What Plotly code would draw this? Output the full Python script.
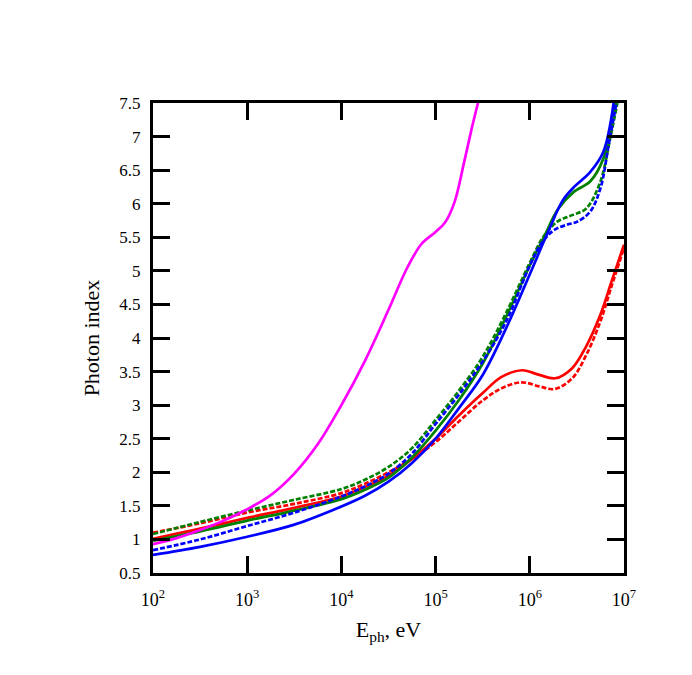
import plotly.graph_objects as go

# log10 of photon energy (eV) and photon index
m_logE = [2.0, 2.25, 2.5, 2.75, 3.0, 3.25, 3.5, 3.75, 4.0, 4.25, 4.5, 4.7, 4.85, 5.0, 5.1, 5.2, 5.3, 5.38, 5.45]
m_idx = [0.93, 1.02, 1.14, 1.28, 1.45, 1.66, 1.98, 2.42, 3.00, 3.66, 4.42, 5.05, 5.40, 5.58, 5.72, 6.02, 6.60, 7.10, 7.5]

rs_logE = [2.0, 2.5, 3.0, 3.5, 4.0, 4.25, 4.5, 4.75, 5.0, 5.25, 5.5, 5.7, 5.92, 6.1, 6.27, 6.45, 6.6, 6.75, 6.87, 7.0]
rs_idx = [1.01, 1.16, 1.32, 1.47, 1.64, 1.78, 1.95, 2.20, 2.50, 2.85, 3.18, 3.42, 3.52, 3.45, 3.40, 3.55, 3.88, 4.35, 4.85, 5.39]

rd_logE = [2.0, 2.5, 3.0, 3.5, 4.0, 4.25, 4.5, 4.75, 5.0, 5.25, 5.5, 5.7, 5.91, 6.1, 6.26, 6.45, 6.6, 6.75, 6.87, 7.0]
rd_idx = [1.10, 1.24, 1.40, 1.53, 1.69, 1.83, 2.00, 2.20, 2.45, 2.76, 3.07, 3.25, 3.34, 3.28, 3.24, 3.40, 3.75, 4.25, 4.78, 5.34]

gs_logE = [2.0, 2.5, 3.0, 3.5, 4.0, 4.25, 4.5, 4.75, 5.0, 5.25, 5.5, 5.75, 6.0, 6.15, 6.3, 6.47, 6.64, 6.78, 6.91]
gs_idx = [0.98, 1.12, 1.28, 1.43, 1.60, 1.74, 1.92, 2.22, 2.62, 3.08, 3.62, 4.32, 5.08, 5.50, 5.92, 6.18, 6.33, 6.67, 7.5]

gd_logE = [2.0, 2.5, 3.0, 3.5, 4.0, 4.25, 4.5, 4.75, 5.0, 5.25, 5.5, 5.75, 6.0, 6.15, 6.3, 6.45, 6.6, 6.75, 6.85, 6.93]
gd_idx = [1.08, 1.26, 1.43, 1.59, 1.75, 1.89, 2.08, 2.36, 2.78, 3.22, 3.72, 4.38, 5.12, 5.52, 5.74, 5.83, 5.93, 6.33, 6.95, 7.5]

bs_logE = [2.0, 2.5, 3.0, 3.5, 4.0, 4.25, 4.5, 4.75, 5.0, 5.25, 5.5, 5.75, 6.0, 6.2, 6.35, 6.47, 6.64, 6.78, 6.89]
bs_idx = [0.77, 0.89, 1.04, 1.22, 1.49, 1.65, 1.86, 2.14, 2.50, 2.96, 3.45, 4.15, 4.95, 5.60, 6.05, 6.25, 6.47, 6.77, 7.5]

bd_logE = [2.0, 2.5, 3.0, 3.5, 4.0, 4.25, 4.5, 4.75, 5.0, 5.25, 5.5, 5.75, 6.0, 6.13, 6.25, 6.4, 6.5, 6.64, 6.75, 6.84, 6.92]
bd_idx = [0.84, 1.00, 1.20, 1.40, 1.64, 1.79, 1.98, 2.28, 2.72, 3.16, 3.65, 4.25, 5.08, 5.42, 5.60, 5.69, 5.73, 5.88, 6.23, 6.90, 7.5]

x_tickvals = [1e2, 1e3, 1e4, 1e5, 1e6, 1e7]
x_ticktext = ["10<sup>2</sup>", "10<sup>3</sup>", "10<sup>4</sup>", "10<sup>5</sup>", "10<sup>6</sup>", "10<sup>7</sup>"]
y_tickvals = [0.5, 1, 1.5, 2, 2.5, 3, 3.5, 4, 4.5, 5, 5.5, 6, 6.5, 7, 7.5]
y_ticktext = ["0.5", "1", "1.5", "2", "2.5", "3", "3.5", "4", "4.5", "5", "5.5", "6", "6.5", "7", "7.5"]

series = [
    (rs_logE, rs_idx, "#ff0000", "solid"),
    (rd_logE, rd_idx, "#ff0000", "5px,2px"),
    (gs_logE, gs_idx, "#008000", "solid"),
    (gd_logE, gd_idx, "#008000", "5px,2px"),
    (bs_logE, bs_idx, "#0000ff", "solid"),
    (bd_logE, bd_idx, "#0000ff", "5px,2px"),
    (m_logE, m_idx, "#ff00ff", "solid"),
]

fig = go.Figure()
for lx, yy, col, dash in series:
    fig.add_trace(go.Scatter(
        x=[10 ** v for v in lx], y=yy, mode="lines",
        line=dict(color=col, width=2.7, dash=dash, shape="spline", smoothing=1.0),
        showlegend=False, hoverinfo="skip"))

FONT = "Liberation Serif"
fig.update_layout(
    width=692, height=675,
    margin=dict(l=145, r=76, t=95, b=110, autoexpand=False),
    paper_bgcolor="white", plot_bgcolor="white",
    font=dict(family=FONT, color="black", size=17),
    showlegend=False,
)
fig.update_xaxes(
    type="log", range=[2, 7], automargin=False,
    tickvals=x_tickvals, ticktext=x_ticktext,
    ticks="inside", ticklen=17, tickwidth=3, tickcolor="black",
    showline=True, linewidth=3, linecolor="black", mirror="allticks",
    showgrid=False, zeroline=False,
    tickfont=dict(family=FONT, size=18),
    ticklabelstandoff=8,
    title=dict(text="E<sub>ph</sub>, eV", font=dict(family=FONT, size=22), standoff=14),
)
fig.update_yaxes(
    range=[0.5, 7.5], automargin=False,
    tickvals=y_tickvals, ticktext=y_ticktext,
    ticks="inside", ticklen=17, tickwidth=3, tickcolor="black",
    showline=True, linewidth=3, linecolor="black", mirror="allticks",
    showgrid=False, zeroline=False,
    tickfont=dict(family=FONT, size=17),
    ticklabelstandoff=6,
    title=dict(text="Photon index", font=dict(family=FONT, size=22), standoff=14),
)

fig.write_html("out.html")
